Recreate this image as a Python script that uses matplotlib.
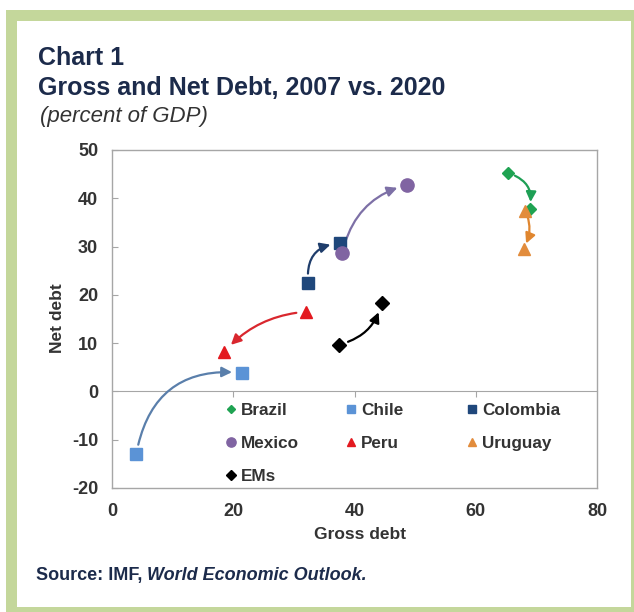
import matplotlib.pyplot as plt
from matplotlib.patches import Rectangle

plt.rcParams['font.family'] = ['Liberation Sans', 'DejaVu Sans']
plt.rcParams['axes.unicode_minus'] = False

# 2007 -> 2020 points (gross debt, net debt), percent of GDP
countries = ['Brazil', 'Chile', 'Colombia', 'Mexico', 'Peru', 'Uruguay', 'EMs']
gross_2007 = [65.4, 4.0, 32.4, 38.0, 32.0, 68.2, 37.4]
net_2007 = [45.2, -13.0, 22.4, 28.7, 16.5, 37.4, 9.7]
gross_2020 = [68.9, 21.4, 37.6, 48.6, 18.5, 67.9, 44.5]
net_2020 = [37.8, 3.9, 30.8, 42.8, 8.2, 29.6, 18.3]

x_ticks = [0, 20, 40, 60, 80]
y_ticks = [-20, -10, 0, 10, 20, 30, 40, 50]

colors = {'Brazil': '#1fa352', 'Chile': '#5b93d6', 'Colombia': '#1f477b',
          'Mexico': '#8064a2', 'Peru': '#e3191f', 'Uruguay': '#e28c3c', 'EMs': '#000000'}
arrow_colors = {'Brazil': '#1e9f55', 'Chile': '#5a7fab', 'Colombia': '#1f3d6b',
                'Mexico': '#7d70a6', 'Peru': '#d9272e', 'Uruguay': '#e0862f', 'EMs': '#000000'}
markers = {'Brazil': 'D', 'Chile': 's', 'Colombia': 's', 'Mexico': 'o',
           'Peru': '^', 'Uruguay': '^', 'EMs': 'D'}
msize = {'Brazil': 6.5, 'Chile': 8.5, 'Colombia': 8.5, 'Mexico': 9.5,
         'Peru': 9, 'Uruguay': 9, 'EMs': 7}
rads = {'Brazil': -0.45, 'Chile': -0.45, 'Colombia': -0.5, 'Mexico': -0.3,
        'Peru': 0.2, 'Uruguay': -0.25, 'EMs': 0.3}
shrinks = {'Brazil': 5, 'Chile': 7, 'Colombia': 7, 'Mexico': 7,
           'Peru': 7, 'Uruguay': 4, 'EMs': 7}

W, H = 634, 612
fig = plt.figure(figsize=(W / 100, H / 100), dpi=100)

# green frame
fig.patches.append(Rectangle((6 / W, 0), 1 - 6 / W, 1 - 10 / H, transform=fig.transFigure,
                             facecolor='#c4d79b', edgecolor='none', zorder=-10))
fig.patches.append(Rectangle((17 / W, 5 / H), 614 / W, 1 - 26 / H, transform=fig.transFigure,
                             facecolor='white', edgecolor='none', zorder=-9))

navy = '#1c2b4b'
fig.text(38 / W, 1 - 65 / H, 'Chart 1', fontsize=18, fontweight='bold', color=navy)
fig.text(38 / W, 1 - 95 / H, 'Gross and Net Debt, 2007 vs. 2020', fontsize=18,
         fontweight='bold', color=navy)
fig.text(40 / W, 1 - 122 / H, '(percent of GDP)', fontsize=16, style='italic', color='#333333')

src = fig.text(36 / W, 1 - 580 / H, 'Source: IMF, ', fontsize=13, fontweight='bold', color=navy)
fig.canvas.draw()
bb = src.get_window_extent()
fig.text(bb.x1 / W, 1 - 580 / H, 'World Economic Outlook.', fontsize=13, fontweight='bold',
         style='italic', color=navy)

ax = fig.add_axes([112 / W, 1 - 488 / H, 485 / W, 338 / H])
grey = '#a6a6a6'

handles = {}
for i, c in enumerate(countries):
    h, = ax.plot([gross_2007[i], gross_2020[i]], [net_2007[i], net_2020[i]],
                 linestyle='none', marker=markers[c], markersize=msize[c],
                 color=colors[c], label=c, zorder=3)
    handles[c] = h
    ax.annotate('', xy=(gross_2020[i], net_2020[i]), xytext=(gross_2007[i], net_2007[i]),
                arrowprops=dict(arrowstyle='-|>,head_length=0.5,head_width=0.25',
                                color=arrow_colors[c], lw=1.6, mutation_scale=12,
                                shrinkA=shrinks[c], shrinkB=shrinks[c],
                                connectionstyle='arc3,rad=%s' % rads[c]),
                zorder=2)

ax.set_xlim(0, 80)
ax.set_ylim(-20, 50)
ax.set_xticks(x_ticks)
ax.set_yticks(y_ticks)
for s in ax.spines.values():
    s.set_color(grey)
    s.set_linewidth(1)
ax.tick_params(axis='x', length=0, pad=11, labelsize=13, labelcolor='#333333')
ax.tick_params(axis='y', direction='in', length=4, color=grey, pad=10,
               labelsize=13, labelcolor='#333333')
for lab in ax.get_xticklabels() + ax.get_yticklabels():
    lab.set_fontweight('bold')

# horizontal axis line crossing at zero, with its tick marks
sec = ax.secondary_xaxis(20 / 70)
sec.set_xticks(x_ticks[1:-1])
sec.tick_params(length=4, color=grey, labelbottom=False)
sec.spines['bottom'].set_color(grey)

ax.set_xlabel('Gross debt', fontsize=12.5, fontweight='bold', color='#333333')
ax.set_ylabel('Net debt', fontsize=12.5, fontweight='bold', color='#333333')
ax.xaxis.set_label_coords((360 - 112) / 485, -(527 - 488) / 338)
ax.yaxis.set_label_coords(-(112 - 65) / 485, (488 - 318) / 338)

# legend: three columns of equal width, laid out row by row
legend_cols = [['Brazil', 'Mexico', 'EMs'], ['Chile', 'Peru'], ['Colombia', 'Uruguay']]
col_x = [226, 346, 467]
for j, names in enumerate(legend_cols):
    leg = ax.legend([handles[c] for c in names], names, frameon=False,
                    loc='upper left', bbox_to_anchor=((col_x[j] - 112) / 485, (488 - 403) / 338),
                    prop={'size': 12.3, 'weight': 'bold'}, markerscale=0.7,
                    handlelength=0.6, handletextpad=0.3,
                    labelspacing=1.05, borderpad=0, borderaxespad=0)
    for t in leg.get_texts():
        t.set_color('#333333')
    if j < len(legend_cols) - 1:
        ax.add_artist(leg)

fig.savefig('out.png', dpi=100)
